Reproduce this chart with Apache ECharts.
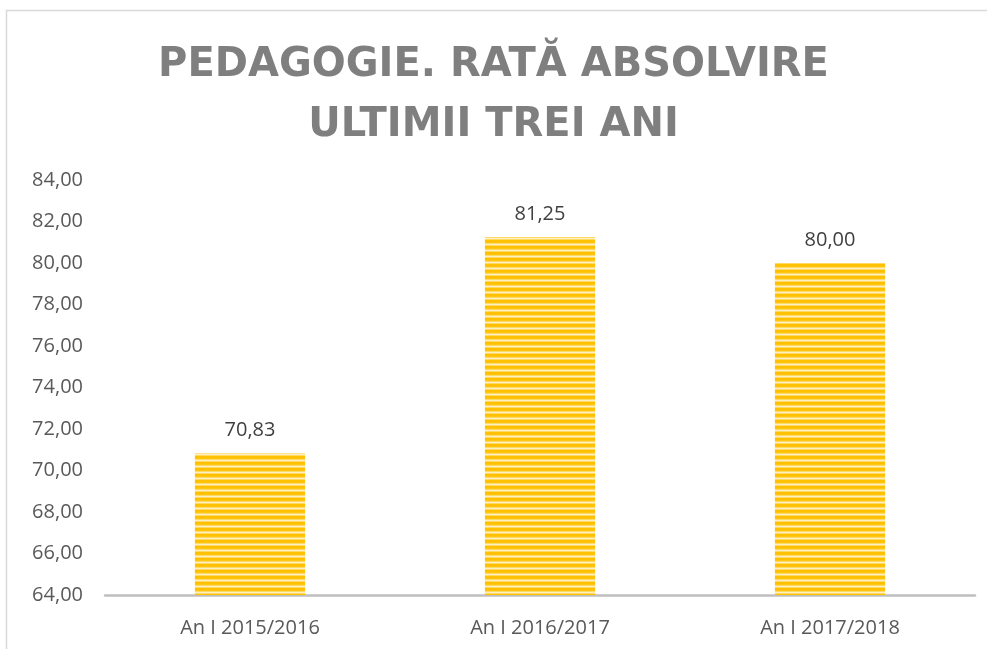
<!DOCTYPE html>
<html>
<head>
<meta charset="utf-8">
<script src="https://cdn.jsdelivr.net/npm/echarts@6/dist/echarts.min.js"></script>
<style>
  html, body { margin: 0; padding: 0; background: #fff; }
  #main { width: 987px; height: 649px; }
</style>
</head>
<body>
<div id="main"></div>
<script>
// date grafic
var categories = ['An I 2015/2016', 'An I 2016/2017', 'An I 2017/2018'];
var rate = [70.83, 81.25, 80.00];
var yMin = 64, yMax = 84, yStep = 2;

function fmt(v) {
  return Number(v).toFixed(2).replace('.', ',');
}

// model cu dungi orizontale pentru bare
function stripes() {
  var c = document.createElement('canvas');
  c.width = 4; c.height = 6;
  var ctx = c.getContext('2d');
  var rows = ['#ffc000', '#ffc000', '#ffc511', '#ffd966', '#fff0c4', '#ffd966'];
  for (var i = 0; i < rows.length; i++) {
    ctx.fillStyle = rows[i];
    ctx.fillRect(0, i, 4, 1);
  }
  return c;
}

var chart = echarts.init(document.getElementById('main'), null, { renderer: 'canvas' });

var option = {
  animation: false,
  graphic: [{
    type: 'rect',
    shape: { x: 6.5, y: 10.5, width: 1000, height: 700 },
    style: { fill: 'none', stroke: '#d9d9d9', lineWidth: 1.5 },
    silent: true
  }],
  title: {
    text: 'PEDAGOGIE. RATĂ ABSOLVIRE\nULTIMII TREI ANI',
    left: 'center',
    top: 31,
    textStyle: {
      fontFamily: 'DejaVu Sans',
      fontWeight: 'bold',
      fontSize: 40,
      lineHeight: 60,
      color: '#7f7f7f'
    }
  },
  grid: { left: 105, right: 12, top: 180, bottom: 54 },
  xAxis: {
    type: 'category',
    data: categories,
    axisLine: { lineStyle: { color: '#bfbfbf', width: 2.5 } },
    axisTick: { show: false },
    axisLabel: {
      margin: 23,
      fontFamily: 'Open Sans',
      fontSize: 20,
      color: '#595959'
    }
  },
  yAxis: {
    type: 'value',
    min: yMin,
    max: yMax,
    interval: yStep,
    splitLine: { show: false },
    axisLine: { show: false },
    axisTick: { show: false },
    axisLabel: {
      margin: 22,
      fontFamily: 'Open Sans',
      fontSize: 20,
      color: '#595959',
      formatter: fmt
    }
  },
  series: [{
    type: 'bar',
    data: rate,
    barWidth: '38%',
    itemStyle: { color: { image: stripes(), repeat: 'repeat' } },
    label: {
      show: true,
      position: 'top',
      distance: 13,
      fontFamily: 'Open Sans',
      fontSize: 20,
      color: '#404040',
      formatter: function (p) { return fmt(p.value); }
    }
  }]
};

chart.setOption(option);
</script>
</body>
</html>
